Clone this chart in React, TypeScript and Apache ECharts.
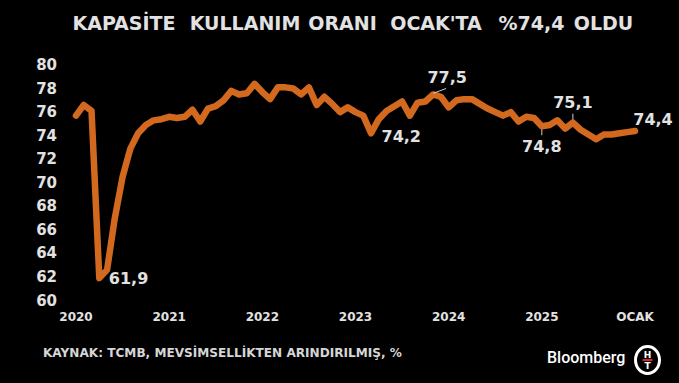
import React, { useEffect, useRef } from "react";
import * as echarts from "echarts";

const startYear = 2020;
const yearLabels = ["2020", "2021", "2022", "2023", "2024", "2025", "OCAK"];

const v2020 = [75.7, 76.6, 76.1, 61.9, 62.6, 67.0, 70.5, 72.9, 74.2, 74.9, 75.3, 75.4];
const v2021 = [75.6, 75.5, 75.6, 76.2, 75.2, 76.3, 76.5, 77.0, 77.8, 77.5, 77.6, 78.4];
const v2022 = [77.7, 77.1, 78.1, 78.1, 78.0, 77.5, 78.1, 76.6, 77.3, 76.7, 76.0, 76.4];
const v2023 = [76.0, 75.7, 74.2, 75.4, 76.1, 76.5, 76.9, 75.7, 76.8, 76.9, 77.5, 77.3];
const v2024 = [76.4, 77.0, 77.1, 77.1, 76.7, 76.3, 76.0, 75.7, 76.0, 75.2, 75.6, 75.5];
const v2025 = [74.8, 74.9, 75.3, 74.6, 75.1, 74.5, 74.1, 73.7, 74.1, 74.1, 74.2, 74.3];
const v2026 = [74.4];

const values = [...v2020, ...v2021, ...v2022, ...v2023, ...v2024, ...v2025, ...v2026];
const categories = values.map((_, i) => {
  const y = startYear + Math.floor(i / 12);
  const m = (i % 12) + 1;
  return `${y}-${m < 10 ? "0" + m : m}`;
});

// indices of annotated points
const annotatedIdx = [3, 38, 46, 60, 64, 72];

const TITLE_WORDS = ["KAPASİTE", "KULLANIM", "ORANI", "OCAK'TA", "%74,4", "OLDU"];
const TITLE_CENTERS = [124, 245, 342.5, 436, 531.5, 603.5];
const SOURCE = "KAYNAK: TCMB, MEVSİMSELLİKTEN ARINDIRILMIŞ, %";

const LINE_COLOR = "#d2691e";
const TEXT_COLOR = "#e2e2e2";
const FONT = "DejaVu Sans";

// label styles per annotated point (position/offset), and leader line offsets
const labelStyles: Record<number, any> = {
  3: { position: "right", distance: 9, offset: [0, 0] },
  38: { position: "right", distance: 10, offset: [0, 3] },
  46: { position: "top", distance: 8, offset: [14, 0] },
  60: { position: "bottom", distance: 12, offset: [0, 0] },
  64: { position: "top", distance: 12, offset: [0, 0] },
  72: { position: "top", distance: 3, offset: [18, 0] },
};
const leaderStyles: Record<number, number[]> = {
  46: [0, -1, 13, -6],
  60: [0, 3, 0, 9],
  64: [0, -3, 0, -9],
};

export default function App() {
  const ref = useRef<HTMLDivElement>(null);
  useEffect(() => {
    document.body.style.margin = "0";
    document.body.style.background = "#000";
    if (!ref.current) return;
    const chart = echarts.init(ref.current, undefined, { renderer: "svg" });
    const fmt = (v: number) => v.toFixed(1).replace(".", ",");
    const data = values.map((v, i) => {
      const st = labelStyles[i];
      if (!st) return v;
      return {
        value: v,
        label: {
          show: true,
          formatter: () => fmt(v),
          position: st.position,
          distance: st.distance,
          offset: st.offset,
          color: TEXT_COLOR,
          fontFamily: FONT,
          fontWeight: "bold",
          fontSize: 16,
        },
      };
    });
    const titleTexts = TITLE_WORDS.map((w, i) => ({
      type: "text",
      x: TITLE_CENTERS[i],
      y: 22.5,
      style: {
        text: w,
        fill: TEXT_COLOR,
        font: `bold 19px ${FONT}`,
        align: "center",
        verticalAlign: "middle",
      },
    }));
    const option: any = {
      animation: false,
      backgroundColor: "#000",
      grid: { left: 76, right: 44, top: 65, bottom: 82.5 },
      xAxis: {
        type: "category",
        data: categories,
        boundaryGap: false,
        axisLine: { show: false },
        axisTick: { show: false },
        splitLine: { show: false },
        axisLabel: {
          interval: (index: number) => index % 12 === 0,
          formatter: (_: string, index: number) => yearLabels[Math.floor(index / 12)],
          color: TEXT_COLOR,
          fontFamily: FONT,
          fontWeight: "bold",
          fontSize: 12,
          margin: 10,
        },
      },
      yAxis: {
        type: "value",
        min: 60,
        max: 80,
        interval: 2,
        axisLine: { show: false },
        axisTick: { show: false },
        splitLine: { show: false },
        axisLabel: {
          color: TEXT_COLOR,
          fontFamily: FONT,
          fontWeight: "bold",
          fontSize: 15,
          margin: 19,
        },
      },
      series: [
        {
          type: "line",
          data,
          symbol: "circle",
          symbolSize: 1,
          showAllSymbol: true,
          itemStyle: { color: LINE_COLOR },
          lineStyle: { color: LINE_COLOR, width: 6.5, cap: "round", join: "round" },
          label: { show: false },
          z: 3,
        },
      ],
      graphic: [
        ...titleTexts,
        {
          type: "text",
          left: 43,
          top: 347,
          style: {
            text: SOURCE,
            fill: "#d6d6d6",
            font: `bold 12.1px ${FONT}`,
          },
        },
        {
          type: "text",
          left: 547,
          top: 349,
          style: {
            text: "Bloomberg",
            fill: "#ffffff",
            font: `500 16px Roboto`,
          },
        },
        {
          type: "group",
          left: 634,
          top: 345,
          children: [
            {
              type: "ellipse",
              shape: { cx: 14, cy: 15, rx: 12, ry: 13.5 },
              style: { fill: "#000", stroke: "#ffffff", lineWidth: 3 },
            },
            {
              type: "text",
              x: 14,
              y: 10,
              style: { text: "H", fill: "#fff", font: "bold 9px DejaVu Sans", align: "center", verticalAlign: "middle" },
            },
            {
              type: "rect",
              shape: { x: 9, y: 14, width: 10, height: 2 },
              style: { fill: "#e0202a" },
            },
            {
              type: "text",
              x: 14,
              y: 21,
              style: { text: "T", fill: "#fff", font: "bold 9px DejaVu Sans", align: "center", verticalAlign: "middle" },
            },
          ],
        },
      ],
    };
    chart.setOption(option);

    // leader lines computed from data positions
    const leaders: any[] = [];
    annotatedIdx.forEach((i) => {
      const l = leaderStyles[i];
      if (!l) return;
      const p = chart.convertToPixel({ seriesIndex: 0 }, [i, values[i]]) as number[];
      leaders.push({
        type: "line",
        shape: { x1: p[0] + l[0], y1: p[1] + l[1], x2: p[0] + l[2], y2: p[1] + l[3] },
        style: { stroke: "#cfcfcf", lineWidth: 1 },
        z: 10,
      });
    });
    chart.setOption({ graphic: [...option.graphic, ...leaders] });

    return () => chart.dispose();
  }, []);
  return <div ref={ref} style={{ width: 679, height: 383, background: "#000" }} />;
}
